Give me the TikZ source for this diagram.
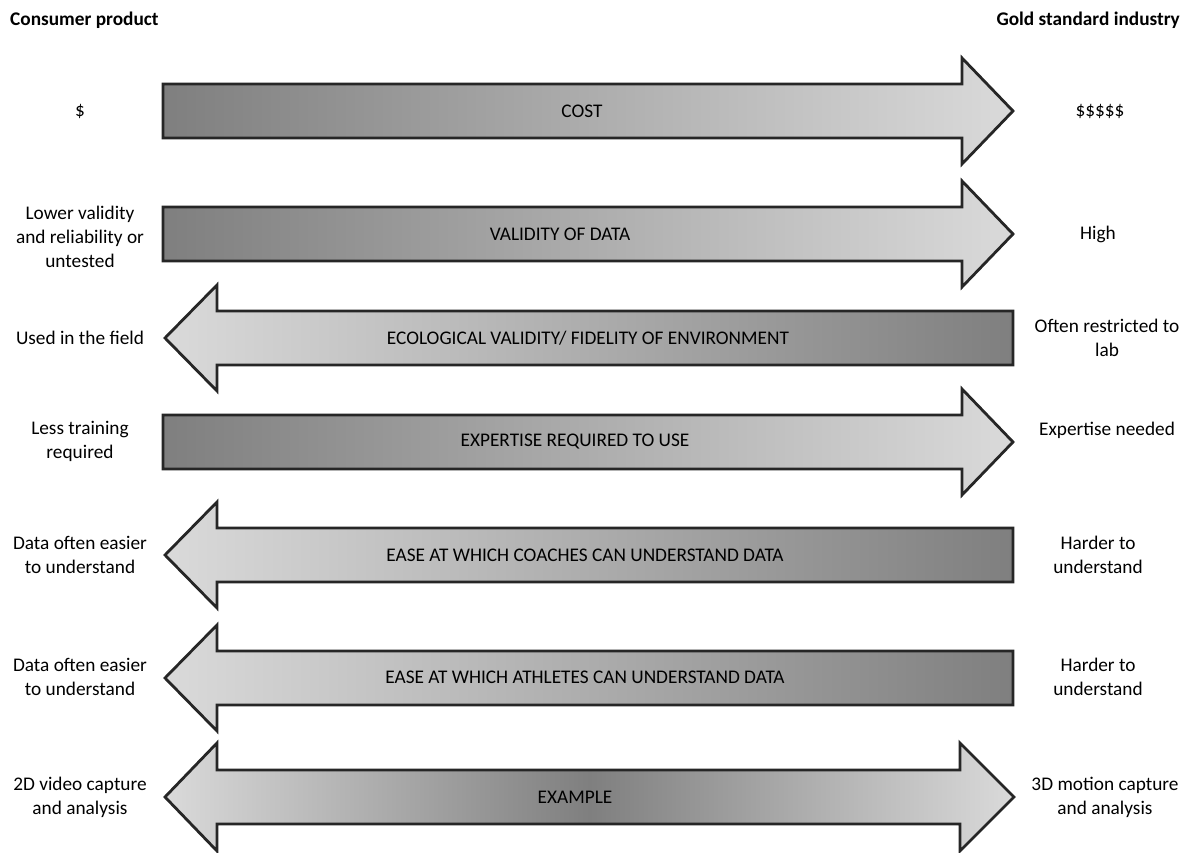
\documentclass[tikz,border=0pt]{standalone}
\usepackage{fontspec}
\setmainfont{Carlito}
\begin{document}
\begin{tikzpicture}[x=1pt,y=-1pt,
  lbl/.style={font=\fontsize{19.3}{24}\selectfont, align=center, inner sep=0pt},
  hdr/.style={font=\fontsize{19.3}{24}\selectfont\bfseries, inner sep=0pt},
  ctr/.style={font=\fontsize{19.3}{24}\selectfont, inner sep=0pt},
  arrowline/.style={draw=black!85, line width=2.8pt, line join=miter},
]
\definecolor{dk}{HTML}{7F7F7F}
\definecolor{lt}{HTML}{DADADA}
\useasboundingbox (0,0) rectangle (1189,853);
\tikzset{
  rarr/.pic={\path[arrowline, left color=dk, right color=lt]
    (163,-27) -- (962,-27) -- (962,-53) -- (1013,0) -- (962,53) -- (962,27) -- (163,27) -- cycle;},
  larr/.pic={\path[arrowline, left color=lt, right color=dk]
    (1013,-27) -- (217,-27) -- (217,-53) -- (165,0) -- (217,53) -- (217,27) -- (1013,27) -- cycle;},
  darr/.pic={\path[arrowline, left color=lt, right color=lt, middle color=dk]
    (217,-27) -- (960,-27) -- (960,-54) -- (1014,0) -- (960,54) -- (960,27) -- (217,27) -- (217,54) -- (165,0) -- (217,-54) -- cycle;},
}
% headers
\node[hdr, anchor=west] (hl) at (10,20) {Consumer product};
\node[hdr, anchor=east] (hr) at (1180,20) {Gold standard industry};
% arrows
\pic at (0,111) {rarr};
\pic at (0,234) {rarr};
\pic at (0,338) {larr};
\pic at (0,442) {rarr};
\pic at (0,555) {larr};
\pic at (0,678) {larr};
\pic at (0,797) {darr};
% centre labels
\node[ctr] (c1) at (582,111) {COST};
\node[ctr] (c2) at (560,234) {VALIDITY OF DATA};
\node[ctr] (c3) at (588,338) {ECOLOGICAL VALIDITY/ FIDELITY OF ENVIRONMENT};
\node[ctr] (c4) at (575,442) {EXPERTISE REQUIRED TO USE};
\node[ctr] (c5) at (585,555) {EASE AT WHICH COACHES CAN UNDERSTAND DATA};
\node[ctr] (c6) at (585,677) {EASE AT WHICH ATHLETES CAN UNDERSTAND DATA};
\node[ctr] (c7) at (575,797) {EXAMPLE};
% left labels
\node[lbl] (l1) at (80,111) {\$};
\node[lbl] (l2) at (80,237) {Lower validity\\and reliability or\\untested};
\node[lbl] (l3) at (80,338) {Used in the field};
\node[lbl] (l4) at (80,441) {Less training\\required};
\node[lbl] (l5) at (80,555) {Data often easier\\to understand};
\node[lbl] (l6) at (80,677) {Data often easier\\to understand};
\node[lbl] (l7) at (80,797) {2D video capture\\and analysis};
% right labels
\node[lbl] (r1) at (1100,111) {\$\$\$\$\$};
\node[lbl] (r2) at (1098,234) {High};
\node[lbl] (r3) at (1107,338) {Often restricted to\\lab};
\node[lbl] (r4) at (1107,430) {Expertise needed};
\node[lbl] (r5) at (1098,555) {Harder to\\understand};
\node[lbl] (r6) at (1098,677) {Harder to\\understand};
\node[lbl] (r7) at (1105,797) {3D motion capture\\and analysis};
\end{tikzpicture}
\end{document}
